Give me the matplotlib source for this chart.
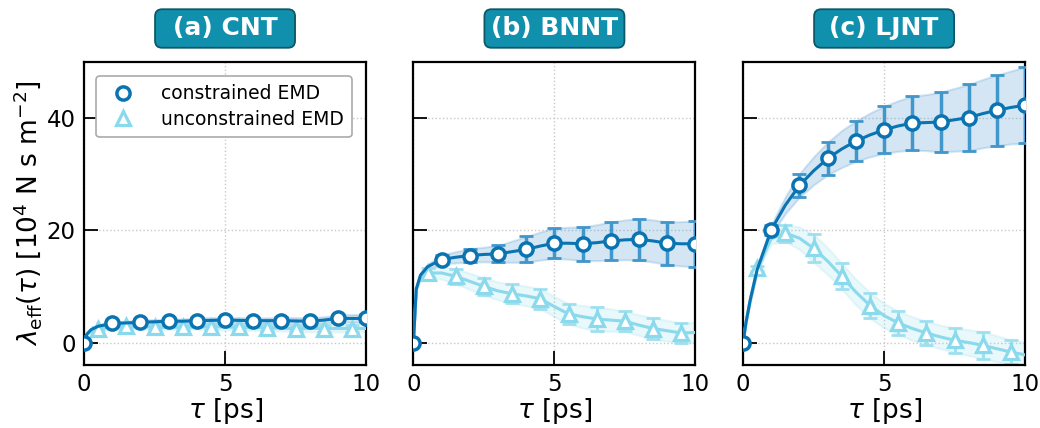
import numpy as np
import matplotlib
matplotlib.use("Agg")
import matplotlib.pyplot as plt
from matplotlib.lines import Line2D
from matplotlib.patches import FancyBboxPatch

# ---------------- data ----------------
tau = [0, 0.1, 0.25, 0.5, 1, 1.5, 2, 2.5, 3, 3.5, 4, 4.5, 5, 5.5, 6, 6.5, 7, 7.5, 8, 8.5, 9, 9.5, 10]

panel_titles = ["(a) CNT", "(b) BNNT", "(c) LJNT"]
series_labels = ["constrained EMD", "unconstrained EMD"]

cnt_con = [0, 1.5, 2.3, 2.9, 3.4, 3.5, 3.6, 3.7, 3.8, 3.8, 3.9, 3.95, 4.0, 3.95, 3.9, 3.9, 3.9, 3.85, 3.8, 4.0, 4.3, 4.3, 4.3]
cnt_con_err = [0, 0.1, 0.2, 0.3, 0.3, 0.3, 0.4, 0.4, 0.4, 0.4, 0.5, 0.5, 0.5, 0.5, 0.5, 0.5, 0.6, 0.6, 0.6, 0.6, 0.6, 0.7, 0.7]
cnt_unc = [0, 1.4, 2.1, 2.5, 2.8, 2.9, 2.8, 2.7, 2.7, 2.7, 2.75, 2.8, 2.75, 2.7, 2.65, 2.6, 2.55, 2.5, 2.5, 2.5, 2.5, 2.5, 2.5]
cnt_unc_err = [0, 0.1, 0.2, 0.3, 0.3, 0.3, 0.4, 0.4, 0.4, 0.4, 0.4, 0.5, 0.5, 0.5, 0.5, 0.5, 0.5, 0.5, 0.6, 0.6, 0.6, 0.6, 0.6]

bnnt_con = [0, 9.5, 12.0, 13.5, 14.8, 15.2, 15.5, 15.7, 15.8, 16.2, 16.6, 17.2, 17.7, 17.7, 17.6, 17.8, 18.1, 18.3, 18.4, 18.1, 17.7, 17.6, 17.6]
bnnt_con_err = [0, 0.3, 0.4, 0.5, 0.8, 1.0, 1.2, 1.3, 1.5, 1.9, 2.3, 2.5, 2.7, 2.85, 3.0, 3.2, 3.4, 3.55, 3.7, 3.75, 3.8, 3.95, 4.1]
bnnt_unc = [0, 9.5, 11.8, 12.4, 12.4, 11.8, 10.9, 10.0, 9.2, 8.7, 8.3, 7.8, 6.4, 5.1, 4.6, 4.2, 4.0, 3.8, 3.1, 2.5, 2.1, 1.7, 1.8]
bnnt_unc_err = [0, 0.3, 0.5, 0.8, 1.1, 1.35, 1.45, 1.55, 1.6, 1.7, 1.75, 1.8, 1.8, 1.85, 2.0, 2.1, 2.0, 1.8, 1.85, 1.9, 1.85, 1.8, 1.8]

ljnt_con = [0, 3.5, 7.5, 13.0, 20.1, 24.5, 28.0, 30.6, 32.8, 34.5, 35.9, 37.0, 37.9, 38.6, 39.1, 39.2, 39.3, 39.7, 40.1, 40.8, 41.4, 41.9, 42.3]
ljnt_con_err = [0, 0.2, 0.4, 0.6, 0.9, 1.5, 2.1, 2.5, 2.9, 3.3, 3.6, 3.9, 4.2, 4.5, 4.8, 5.0, 5.3, 5.6, 5.9, 6.1, 6.3, 6.5, 6.8]
ljnt_unc = [0, 3.5, 7.5, 13.2, 18.5, 19.5, 18.6, 16.8, 14.5, 11.8, 9.0, 6.6, 4.8, 3.5, 2.5, 1.7, 1.0, 0.4, 0.0, -0.5, -1.1, -1.7, -2.2]
ljnt_unc_err = [0, 0.2, 0.3, 0.5, 0.9, 1.5, 2.0, 2.5, 2.4, 2.3, 2.3, 2.3, 2.2, 2.1, 2.1, 2.1, 2.1, 2.2, 2.3, 2.4, 2.3, 2.2, 2.2]

panels = [
    (cnt_con, cnt_con_err, cnt_unc, cnt_unc_err),
    (bnnt_con, bnnt_con_err, bnnt_unc, bnnt_unc_err),
    (ljnt_con, ljnt_con_err, ljnt_unc, ljnt_unc_err),
]

# ---------------- style ----------------
c_con = "#0a73b2"
c_con_err = "#4196cb"
c_con_fill = "#3f8fcc"
c_unc = "#8ad9ec"
c_unc_err = "#9fe0ef"
c_unc_fill = "#8ad9ec"
box_face = "#1190ae"
box_edge = "#0b5868"

t = np.array(tau)
idx_int = [i for i, v in enumerate(tau) if abs(v - round(v)) < 1e-9]
idx_half = [i for i, v in enumerate(tau) if abs((v % 1.0) - 0.5) < 1e-9]

fig = plt.figure(figsize=(10.4, 4.28), dpi=100)
lefts = [0.0808, 0.3975, 0.7145]
w, b, h = 0.2712, 0.1472, 0.708

for k, (con, cerr, unc, uerr) in enumerate(panels):
    ax = fig.add_axes([lefts[k], b, w, h])
    con = np.array(con); cerr = np.array(cerr)
    unc = np.array(unc); uerr = np.array(uerr)

    # bands
    ax.fill_between(t, unc - uerr, unc + uerr, color=c_unc_fill, alpha=0.18, lw=1.5,
                    edgecolor=(0.54, 0.85, 0.93, 0.3), zorder=1)
    ax.fill_between(t, con - cerr, con + cerr, color=c_con_fill, alpha=0.22, lw=1.5,
                    edgecolor=(0.25, 0.56, 0.8, 0.25), zorder=1)

    # error bars at marker positions
    ax.errorbar(t[idx_half], unc[idx_half], yerr=uerr[idx_half], fmt="none",
                ecolor=c_unc_err, elinewidth=2.2, capsize=5, capthick=2, zorder=2)
    ax.errorbar(t[idx_int], con[idx_int], yerr=cerr[idx_int], fmt="none",
                ecolor=c_con_err, elinewidth=2.5, capsize=5, capthick=2, zorder=3)

    # lines with markers
    ax.plot(t, unc, color=c_unc, lw=2.2, marker="^", markevery=idx_half,
            markersize=10, markerfacecolor="white", markeredgecolor=c_unc,
            markeredgewidth=2.3, zorder=4, label=series_labels[1])
    ax.plot(t, con, color=c_con, lw=2.2, marker="o", markevery=idx_int,
            markersize=9.5, markerfacecolor="white", markeredgecolor=c_con,
            markeredgewidth=2.5, zorder=5, label=series_labels[0])

    ax.set_xlim(0, 10)
    ax.set_ylim(-4, 50)
    ax.set_xticks([0, 5, 10])
    ax.set_yticks([0, 20, 40])
    ax.grid(True, ls=":", color="#c8c8c8", lw=1)
    ax.set_axisbelow(True)
    ax.tick_params(direction="in", length=10, width=1.3, labelsize=16.5, pad=6)
    if k > 0:
        ax.set_yticklabels([])
    for s in ax.spines.values():
        s.set_linewidth(1.6)
    ax.set_xlabel(r"$\tau$ [ps]", fontsize=19, labelpad=0)
    if k == 0:
        ax.set_ylabel(r"$\lambda_{\rm eff}(\tau)$ [$10^4$ N s m$^{-2}$]", fontsize=19, labelpad=2)
        hnd = [Line2D([], [], ls="none", marker="o", markersize=9.5, markerfacecolor="white",
                      markeredgecolor=c_con, markeredgewidth=2.5),
               Line2D([], [], ls="none", marker="^", markersize=10, markerfacecolor="white",
                      markeredgecolor=c_unc, markeredgewidth=2.3)]
        leg = ax.legend(hnd, series_labels, loc="upper left", fontsize=13.5,
                        frameon=True, fancybox=True, framealpha=1, edgecolor="#aaaaaa",
                        borderpad=0.45, handletextpad=1.0, labelspacing=0.35,
                        bbox_to_anchor=(0.01, 0.985))
        leg.get_frame().set_linewidth(1.2)

    # title badge (sizes in inches)
    cx = (lefts[k] + w / 2) * 10.4
    cy = 4.28 - 0.285
    bw, bh = 1.40, 0.385
    patch = FancyBboxPatch((cx - bw / 2, cy - bh / 2), bw, bh,
                           boxstyle="round,pad=0,rounding_size=0.07",
                           transform=fig.dpi_scale_trans, facecolor=box_face,
                           edgecolor=box_edge, linewidth=1.3)
    fig.patches.append(patch)
    fig.text(cx, cy, panel_titles[k], transform=fig.dpi_scale_trans, ha="center", va="center",
             fontsize=18, fontweight="bold", color="white")

fig.savefig("out.png", dpi=100)
